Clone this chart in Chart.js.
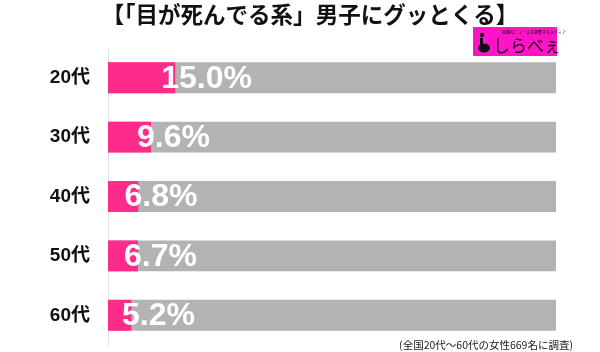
<!DOCTYPE html>
<html>
<head>
<meta charset="utf-8">
<script src="https://cdn.jsdelivr.net/npm/chart.js@4/dist/chart.umd.min.js"></script>
<style>
  html, body { margin: 0; padding: 0; background: #ffffff; }
  #wrap { width: 600px; height: 352px; position: relative; }
</style>
</head>
<body>
<div id="wrap"><canvas id="c" width="600" height="352"></canvas></div>
<script>
const categories = ["20代", "30代", "40代", "50代", "60代"];
const values = [15.0, 9.6, 6.8, 6.7, 5.2];
const fullScale = [100, 100, 100, 100, 100];
const valueLabels = ["15.0%", "9.6%", "6.8%", "6.7%", "5.2%"];
const titleText = "【「目が死んでる系」男子にグッとくる】";
const noteText = "(全国20代〜60代の女性669名に調査)";
const logoText = "しらべぇ";

const PINK = "#ff2b8a";
const GRAY = "#b3b3b3";

const decor = {
  id: "decor",
  afterDraw(chart) {
    const ctx = chart.ctx;
    ctx.save();
    ctx.fillStyle = "#111111";
    ctx.font = "bold 22.5px 'Noto Sans CJK JP', sans-serif";
    ctx.textAlign = "center";
    ctx.textBaseline = "middle";
    ctx.fillText(titleText, 310, 14);
    ctx.fillStyle = "#ff14c8";
    ctx.fillRect(473, 27, 84, 29);
    ctx.fillStyle = "#111111";
    ctx.beginPath();
    ctx.arc(482, 35, 2.2, 0, Math.PI * 2);
    ctx.fill();
    ctx.beginPath();
    ctx.ellipse(484, 48, 6, 4.5, 0, 0, Math.PI * 2);
    ctx.fill();
    ctx.fillRect(480, 38, 3, 9);
    ctx.font = "17px 'Noto Sans CJK JP', sans-serif";
    ctx.textAlign = "left";
    ctx.fillText(logoText, 493, 46);
    ctx.font = "4px 'Noto Sans CJK JP', sans-serif";
    ctx.fillText("話題のニュースを調査するメディア", 502, 32);
    ctx.font = "10.5px 'Noto Sans CJK JP', sans-serif";
    ctx.textAlign = "right";
    ctx.fillStyle = "#222222";
    ctx.fillText(noteText, 573, 345);
    ctx.restore();
  },
  afterDatasetsDraw(chart) {
    const ctx = chart.ctx;
    const xs = chart.scales.x, ys = chart.scales.y;
    ctx.save();
    ctx.font = "bold 32px 'Liberation Sans', Arial, sans-serif";
    ctx.fillStyle = "#ffffff";
    ctx.textAlign = "left";
    ctx.textBaseline = "middle";
    values.forEach((v, i) => {
      const x = Math.max(xs.getPixelForValue(v) - 14, xs.getPixelForValue(0) + 14);
      const y = ys.getPixelForValue(i) + 1;
      ctx.fillText(valueLabels[i], x, y);
    });
    ctx.restore();
  }
};

new Chart(document.getElementById("c"), {
  type: "bar",
  data: {
    labels: categories,
    datasets: [
      { data: values, backgroundColor: PINK, grouped: false, barPercentage: 0.52, categoryPercentage: 1 },
      { data: fullScale, backgroundColor: GRAY, grouped: false, barPercentage: 0.52, categoryPercentage: 1 }
    ]
  },
  options: {
    indexAxis: "y",
    responsive: false,
    animation: false,
    layout: { padding: { top: 48, bottom: 7, right: 44, left: 0 } },
    plugins: { legend: { display: false }, tooltip: { enabled: false } },
    scales: {
      x: { display: false, min: 0, max: 100 },
      y: {
        afterFit: (s) => { s.width = 108; s.paddingTop = 0; s.paddingBottom = 0; },
        grid: { display: false, drawTicks: false },
        border: { display: true, color: "#e2e2e2", width: 1 },
        ticks: {
          padding: 18,
          color: "#111111",
          font: { family: "'Liberation Sans', 'Noto Sans CJK JP', sans-serif", size: 19, weight: "bold" }
        }
      }
    }
  },
  plugins: [decor]
});
</script>
</body>
</html>
